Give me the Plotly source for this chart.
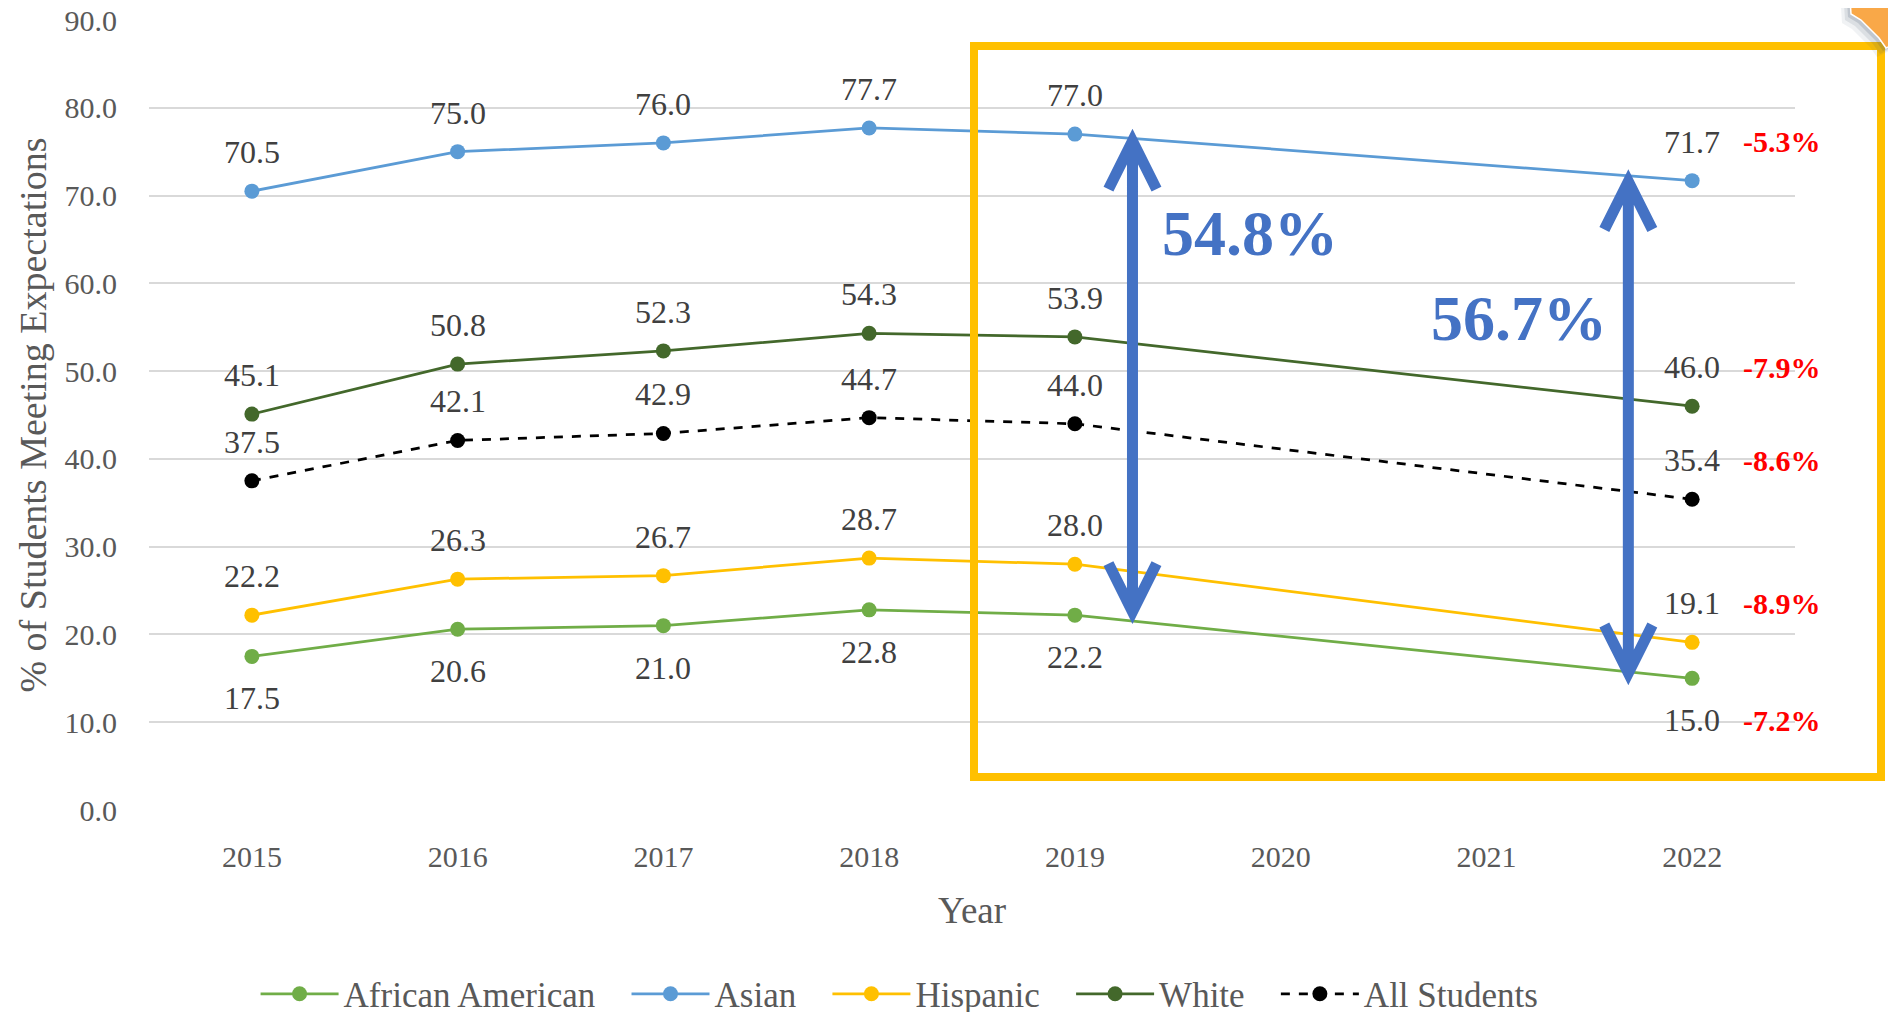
import plotly.graph_objects as go

years = [2015, 2016, 2017, 2018, 2019, 2022]
all_years = [2015, 2016, 2017, 2018, 2019, 2020, 2021, 2022]

series_names = ['African American', 'Asian', 'Hispanic', 'White', 'All Students']
african_american = [17.5, 20.6, 21.0, 22.8, 22.2, 15.0]
asian = [70.5, 75.0, 76.0, 77.7, 77.0, 71.7]
hispanic = [22.2, 26.3, 26.7, 28.7, 28.0, 19.1]
white = [45.1, 50.8, 52.3, 54.3, 53.9, 46.0]
all_students = [37.5, 42.1, 42.9, 44.7, 44.0, 35.4]

FONT = "Liberation Serif, Palatino Linotype, serif"
OFF = 8  # page body margin
W, H = 1896, 1012
ML, MR, MT, MB = 141, 109, 12, 210
PW, PH = W - ML - MR, H - MT - MB


def px_to_paper(px, py):
    # page pixel -> paper coords
    return (px - OFF - ML) / PW, (H - MB - (py - OFF)) / PH


styles = {
    'African American': dict(color='#70AD47', dash='solid', values=african_american, below=True),
    'Asian': dict(color='#5B9BD5', dash='solid', values=asian, below=False),
    'Hispanic': dict(color='#FFC000', dash='solid', values=hispanic, below=False),
    'White': dict(color='#43682B', dash='solid', values=white, below=False),
    'All Students': dict(color='#000000', dash='dash', values=all_students, below=False),
}

fig = go.Figure()
annotations = []
for i, name in enumerate(series_names):
    s = styles[name]
    vals = s['values']
    pad = '\u00a0\u00a0\u00a0' if i < len(series_names) - 1 else ''
    fig.add_trace(go.Scatter(
        x=years, y=vals, mode='lines+markers', name=name + pad,
        line=dict(color=s['color'], width=2.75, dash=s['dash']),
        marker=dict(color=s['color'], size=15),
    ))
    shift = -42 if s['below'] else 39
    for xv, yv in zip(years, vals):
        annotations.append(dict(
            x=xv, y=yv, text=f'{yv:.1f}', showarrow=False, yshift=shift,
            font=dict(family=FONT, size=32, color='#404040')))
    # change from 2019 to 2022
    annotations.append(dict(
        x=years[-1], y=vals[-1], text=f'<b>{vals[-1] - vals[-2]:.1f}%</b>',
        showarrow=False, yshift=shift, xshift=49, xanchor='left',
        font=dict(family=FONT, size=30, color='#FF0000')))

# gap arrows (Asian vs African American)
blue = '#4472C4'
gap_arrows = [
    dict(x=2019.28, y0=22.6, y1=76.2, gap=asian[4] - african_american[4], tx=1250, ty=233),
    dict(x=2021.69, y0=15.6, y1=71.6, gap=asian[5] - african_american[5], tx=1519, ty=318),
]
dx = 24 / (PW / 8)
dy = 48 / (PH / 90)
shapes = []
for a in gap_arrows:
    x, y0, y1 = a['x'], a['y0'], a['y1']
    path = (f'M {x},{y0} L {x},{y1} '
            f'M {x - dx},{y1 - dy} L {x},{y1} L {x + dx},{y1 - dy} '
            f'M {x - dx},{y0 + dy} L {x},{y0} L {x + dx},{y0 + dy}')
    shapes.append(dict(type='path', path=path, xref='x', yref='y',
                       line=dict(color=blue, width=11), layer='above'))
    tx, ty = px_to_paper(a['tx'], a['ty'])
    annotations.append(dict(
        x=tx, y=ty, xref='paper', yref='paper', xanchor='center', yanchor='middle',
        text=f'<b>{a["gap"]:.1f}%</b>', showarrow=False,
        font=dict(family=FONT, size=64, color=blue)))

# highlight box around 2019-2022
x0, y0 = px_to_paper(974, 777)
x1, y1 = px_to_paper(1881, 46)
shapes.append(dict(type='rect', xref='paper', yref='paper', x0=x0, y0=y0, x1=x1, y1=y1,
                   line=dict(color='#FFC000', width=8), layer='above'))


# orange corner decoration (with a soft shadow)
def corner_path(pts_px, ox=0, oy=0):
    pts = [px_to_paper(px + ox, py + oy) for px, py in pts_px]
    return 'M ' + ' L '.join(f'{px},{py}' for px, py in pts) + ' Z'


corner = [(1850, -2), (1851, 14), (1861, 20), (1871, 30), (1879, 38), (1886, 48), (1898, 42), (1898, -2)]
for k, alpha in [(9, 0.08), (6, 0.12), (3, 0.18)]:
    shapes.append(dict(type='path', path=corner_path(corner, -k, k), xref='paper', yref='paper',
                       fillcolor=f'rgba(70,90,110,{alpha})', line=dict(width=0), layer='above'))
shapes.append(dict(type='path', path=corner_path(corner), xref='paper', yref='paper',
                   fillcolor='#F9A848', line=dict(color='white', width=1.5), layer='above'))

fig.update_layout(
    width=W, height=H,
    margin=dict(l=ML, r=MR, t=MT, b=MB, autoexpand=False),
    plot_bgcolor='white', paper_bgcolor='white',
    font=dict(family=FONT, size=30, color='#595959'),
    xaxis=dict(range=[2014.5, 2022.5], tickvals=all_years, showgrid=False, zeroline=False,
               showline=False, ticks='', ticklabelstandoff=26, automargin=False,
               tickfont=dict(size=30, color='#595959'),
               title=dict(text='Year', font=dict(size=37, color='#595959'), standoff=25)),
    yaxis=dict(range=[0, 90], dtick=10, tickformat='.1f', showgrid=True, gridcolor='#D9D9D9',
               gridwidth=1.5, zeroline=False, showline=False, ticks='', ticklabelstandoff=31,
               automargin=False, ticklabeloverflow='allow',
               tickfont=dict(size=30, color='#595959'),
               title=dict(text='% of Students Meeting Expectations',
                          font=dict(size=38, color='#595959'), standoff=6)),
    legend=dict(orientation='h', x=0.456, xanchor='center', y=-0.233, yanchor='middle',
                font=dict(size=35, color='#595959'), itemwidth=78),
    showlegend=True,
    annotations=annotations,
    shapes=shapes,
)

fig.write_html("out.html")
